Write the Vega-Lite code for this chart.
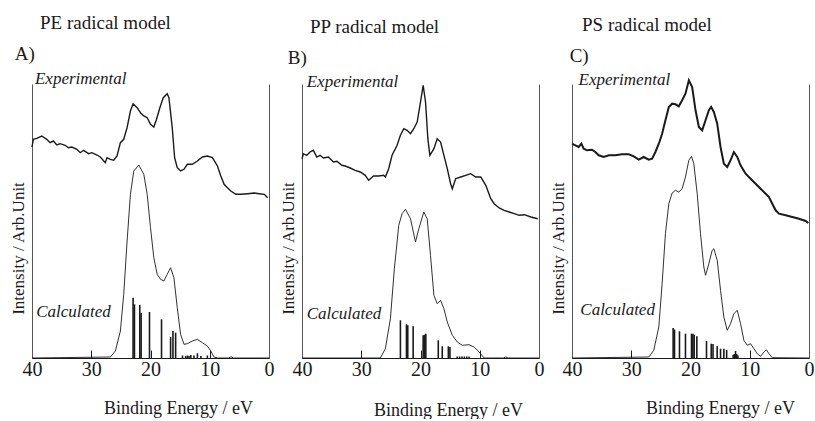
{
"$schema":"https://vega.github.io/schema/vega-lite/v6.json",
"background":"white",
"padding":{"left":9,"top":14,"right":0,"bottom":0},
"config":{"view":{"stroke":null},"font":"Liberation Serif, serif"},
"datasets":{
"curves":[
{"p":"A","s":"e","E":40.0,"I":211},{"p":"A","s":"e","E":39.77,"I":218.7},{"p":"A","s":"e","E":39.21,"I":219.7},{"p":"A","s":"e","E":38.36,"I":222},{"p":"A","s":"e","E":37.51,"I":218.7},{"p":"A","s":"e","E":36.95,"I":215.3},{"p":"A","s":"e","E":36.38,"I":217},{"p":"A","s":"e","E":35.82,"I":213},{"p":"A","s":"e","E":35.25,"I":214.3},{"p":"A","s":"e","E":34.41,"I":212.7},{"p":"A","s":"e","E":33.84,"I":210.3},{"p":"A","s":"e","E":33.28,"I":211},{"p":"A","s":"e","E":32.43,"I":208.7},{"p":"A","s":"e","E":31.86,"I":205.3},{"p":"A","s":"e","E":31.3,"I":207.7},{"p":"A","s":"e","E":30.45,"I":204.3},{"p":"A","s":"e","E":29.89,"I":205.3},{"p":"A","s":"e","E":29.04,"I":203},{"p":"A","s":"e","E":28.47,"I":201},{"p":"A","s":"e","E":27.63,"I":195.3},{"p":"A","s":"e","E":27.34,"I":200.3},{"p":"A","s":"e","E":26.78,"I":198.7},{"p":"A","s":"e","E":26.21,"I":197.7},{"p":"A","s":"e","E":25.65,"I":202},{"p":"A","s":"e","E":25.08,"I":215.3},{"p":"A","s":"e","E":24.52,"I":218.7},{"p":"A","s":"e","E":23.95,"I":230.3},{"p":"A","s":"e","E":23.39,"I":247},{"p":"A","s":"e","E":22.94,"I":254.3},{"p":"A","s":"e","E":22.26,"I":250.3},{"p":"A","s":"e","E":21.69,"I":245.3},{"p":"A","s":"e","E":21.13,"I":242},{"p":"A","s":"e","E":20.56,"I":240.3},{"p":"A","s":"e","E":20.0,"I":233.7},{"p":"A","s":"e","E":19.44,"I":231},{"p":"A","s":"e","E":18.98,"I":238.7},{"p":"A","s":"e","E":18.42,"I":250.3},{"p":"A","s":"e","E":17.85,"I":260.3},{"p":"A","s":"e","E":17.18,"I":264.3},{"p":"A","s":"e","E":16.89,"I":260.3},{"p":"A","s":"e","E":16.33,"I":230.3},{"p":"A","s":"e","E":15.93,"I":200.3},{"p":"A","s":"e","E":15.48,"I":190.3},{"p":"A","s":"e","E":14.92,"I":187},{"p":"A","s":"e","E":14.35,"I":188.7},{"p":"A","s":"e","E":13.79,"I":193.7},{"p":"A","s":"e","E":12.94,"I":193.7},{"p":"A","s":"e","E":12.09,"I":197},{"p":"A","s":"e","E":11.24,"I":201},{"p":"A","s":"e","E":10.4,"I":202},{"p":"A","s":"e","E":9.55,"I":200.3},{"p":"A","s":"e","E":8.7,"I":192},{"p":"A","s":"e","E":8.14,"I":182},{"p":"A","s":"e","E":7.57,"I":173.7},{"p":"A","s":"e","E":7.01,"I":170.3},{"p":"A","s":"e","E":6.44,"I":167},{"p":"A","s":"e","E":5.59,"I":163.7},{"p":"A","s":"e","E":4.75,"I":163.7},{"p":"A","s":"e","E":3.62,"I":164.3},{"p":"A","s":"e","E":2.49,"I":165},{"p":"A","s":"e","E":1.64,"I":164.3},{"p":"A","s":"e","E":0.79,"I":163.7},{"p":"A","s":"e","E":0.23,"I":160.3},
{"p":"A","s":"c","E":40,"I":0},{"p":"A","s":"c","E":26.78,"I":1},{"p":"A","s":"c","E":25.93,"I":7},{"p":"A","s":"c","E":25.08,"I":27},{"p":"A","s":"c","E":24.52,"I":63.7},{"p":"A","s":"c","E":23.95,"I":117},{"p":"A","s":"c","E":23.39,"I":163.7},{"p":"A","s":"c","E":22.82,"I":187},{"p":"A","s":"c","E":21.98,"I":193},{"p":"A","s":"c","E":21.13,"I":183.7},{"p":"A","s":"c","E":20.56,"I":163.7},{"p":"A","s":"c","E":20.0,"I":130.3},{"p":"A","s":"c","E":19.44,"I":100.3},{"p":"A","s":"c","E":18.87,"I":83.7},{"p":"A","s":"c","E":18.31,"I":78.7},{"p":"A","s":"c","E":17.74,"I":77},{"p":"A","s":"c","E":17.18,"I":83.7},{"p":"A","s":"c","E":16.61,"I":90.3},{"p":"A","s":"c","E":16.05,"I":80.3},{"p":"A","s":"c","E":15.48,"I":50.3},{"p":"A","s":"c","E":14.92,"I":23.7},{"p":"A","s":"c","E":14.35,"I":13.7},{"p":"A","s":"c","E":13.79,"I":14.3},{"p":"A","s":"c","E":12.94,"I":17},{"p":"A","s":"c","E":12.09,"I":18.7},{"p":"A","s":"c","E":11.24,"I":15.3},{"p":"A","s":"c","E":10.4,"I":12},{"p":"A","s":"c","E":9.83,"I":7},{"p":"A","s":"c","E":9.27,"I":1},{"p":"A","s":"c","E":8.7,"I":0},{"p":"A","s":"c","E":6.8,"I":0},{"p":"A","s":"c","E":6.4,"I":1.2},{"p":"A","s":"c","E":6.0,"I":0},{"p":"A","s":"c","E":0,"I":0},
{"p":"B","s":"e","E":40.0,"I":199.3},{"p":"B","s":"e","E":39.77,"I":204.3},{"p":"B","s":"e","E":39.21,"I":202.7},{"p":"B","s":"e","E":38.64,"I":206},{"p":"B","s":"e","E":38.08,"I":207.7},{"p":"B","s":"e","E":37.51,"I":201},{"p":"B","s":"e","E":36.95,"I":202.7},{"p":"B","s":"e","E":36.38,"I":200},{"p":"B","s":"e","E":35.54,"I":201},{"p":"B","s":"e","E":35.25,"I":199.3},{"p":"B","s":"e","E":34.69,"I":196},{"p":"B","s":"e","E":34.12,"I":196.7},{"p":"B","s":"e","E":33.28,"I":192.7},{"p":"B","s":"e","E":32.71,"I":192},{"p":"B","s":"e","E":31.86,"I":190},{"p":"B","s":"e","E":31.02,"I":187.7},{"p":"B","s":"e","E":30.17,"I":186},{"p":"B","s":"e","E":29.32,"I":182.7},{"p":"B","s":"e","E":28.76,"I":177.7},{"p":"B","s":"e","E":27.91,"I":182},{"p":"B","s":"e","E":27.06,"I":182},{"p":"B","s":"e","E":26.21,"I":182.7},{"p":"B","s":"e","E":25.93,"I":181},{"p":"B","s":"e","E":25.37,"I":189.3},{"p":"B","s":"e","E":24.8,"I":202.7},{"p":"B","s":"e","E":23.95,"I":212.7},{"p":"B","s":"e","E":23.39,"I":222.7},{"p":"B","s":"e","E":22.82,"I":229.3},{"p":"B","s":"e","E":22.26,"I":227.7},{"p":"B","s":"e","E":21.69,"I":224.3},{"p":"B","s":"e","E":21.13,"I":229.3},{"p":"B","s":"e","E":20.56,"I":236},{"p":"B","s":"e","E":20.0,"I":256},{"p":"B","s":"e","E":19.55,"I":272.7},{"p":"B","s":"e","E":19.15,"I":256},{"p":"B","s":"e","E":18.76,"I":219.3},{"p":"B","s":"e","E":18.42,"I":202.7},{"p":"B","s":"e","E":17.74,"I":209.3},{"p":"B","s":"e","E":17.18,"I":219.3},{"p":"B","s":"e","E":16.61,"I":216},{"p":"B","s":"e","E":16.05,"I":202.7},{"p":"B","s":"e","E":15.48,"I":189.3},{"p":"B","s":"e","E":14.92,"I":174.3},{"p":"B","s":"e","E":14.63,"I":169.3},{"p":"B","s":"e","E":14.07,"I":179.3},{"p":"B","s":"e","E":13.22,"I":181},{"p":"B","s":"e","E":12.37,"I":182.7},{"p":"B","s":"e","E":11.53,"I":184.3},{"p":"B","s":"e","E":10.68,"I":181},{"p":"B","s":"e","E":9.83,"I":181},{"p":"B","s":"e","E":8.98,"I":172.7},{"p":"B","s":"e","E":8.14,"I":159.3},{"p":"B","s":"e","E":7.57,"I":154.3},{"p":"B","s":"e","E":6.72,"I":150},{"p":"B","s":"e","E":5.88,"I":147.7},{"p":"B","s":"e","E":5.03,"I":146},{"p":"B","s":"e","E":4.18,"I":144.3},{"p":"B","s":"e","E":3.33,"I":142.7},{"p":"B","s":"e","E":2.49,"I":143.3},{"p":"B","s":"e","E":1.36,"I":141},{"p":"B","s":"e","E":0.23,"I":139.3},
{"p":"B","s":"c","E":40,"I":0},{"p":"B","s":"c","E":26.78,"I":0},{"p":"B","s":"c","E":25.93,"I":9.3},{"p":"B","s":"c","E":25.08,"I":39.3},{"p":"B","s":"c","E":24.41,"I":89.3},{"p":"B","s":"c","E":23.67,"I":132.7},{"p":"B","s":"c","E":23.11,"I":144.3},{"p":"B","s":"c","E":22.54,"I":148.7},{"p":"B","s":"c","E":21.69,"I":139.3},{"p":"B","s":"c","E":20.85,"I":116},{"p":"B","s":"c","E":20.28,"I":129.3},{"p":"B","s":"c","E":19.44,"I":146},{"p":"B","s":"c","E":18.87,"I":139.3},{"p":"B","s":"c","E":18.31,"I":102.7},{"p":"B","s":"c","E":17.74,"I":62.7},{"p":"B","s":"c","E":17.18,"I":54.3},{"p":"B","s":"c","E":16.61,"I":57.7},{"p":"B","s":"c","E":16.05,"I":49.3},{"p":"B","s":"c","E":15.48,"I":36},{"p":"B","s":"c","E":14.63,"I":22.7},{"p":"B","s":"c","E":13.79,"I":16},{"p":"B","s":"c","E":12.94,"I":12.7},{"p":"B","s":"c","E":11.81,"I":13.3},{"p":"B","s":"c","E":10.96,"I":11},{"p":"B","s":"c","E":10.11,"I":6},{"p":"B","s":"c","E":9.27,"I":0},{"p":"B","s":"c","E":6.0,"I":0},{"p":"B","s":"c","E":5.6,"I":1},{"p":"B","s":"c","E":5.2,"I":0},{"p":"B","s":"c","E":0,"I":0},
{"p":"C","s":"e","E":40.0,"I":214.3},{"p":"C","s":"e","E":39.44,"I":212.7},{"p":"C","s":"e","E":38.87,"I":211},{"p":"C","s":"e","E":38.42,"I":214.3},{"p":"C","s":"e","E":38.03,"I":209.3},{"p":"C","s":"e","E":37.46,"I":207.7},{"p":"C","s":"e","E":36.62,"I":208.3},{"p":"C","s":"e","E":36.06,"I":206},{"p":"C","s":"e","E":35.49,"I":202.7},{"p":"C","s":"e","E":34.65,"I":201},{"p":"C","s":"e","E":33.8,"I":202.7},{"p":"C","s":"e","E":32.68,"I":202.7},{"p":"C","s":"e","E":31.55,"I":203.7},{"p":"C","s":"e","E":30.42,"I":203.7},{"p":"C","s":"e","E":29.58,"I":201.7},{"p":"C","s":"e","E":28.73,"I":198.3},{"p":"C","s":"e","E":27.89,"I":201},{"p":"C","s":"e","E":27.04,"I":198.3},{"p":"C","s":"e","E":26.48,"I":199.3},{"p":"C","s":"e","E":25.92,"I":206},{"p":"C","s":"e","E":25.35,"I":214.3},{"p":"C","s":"e","E":24.79,"I":224.3},{"p":"C","s":"e","E":24.23,"I":237.7},{"p":"C","s":"e","E":23.66,"I":251},{"p":"C","s":"e","E":23.1,"I":254.3},{"p":"C","s":"e","E":22.54,"I":253.7},{"p":"C","s":"e","E":21.97,"I":251.7},{"p":"C","s":"e","E":21.41,"I":257.7},{"p":"C","s":"e","E":20.85,"I":264.3},{"p":"C","s":"e","E":20.28,"I":277.7},{"p":"C","s":"e","E":19.72,"I":271},{"p":"C","s":"e","E":19.15,"I":247.7},{"p":"C","s":"e","E":18.59,"I":231},{"p":"C","s":"e","E":18.03,"I":227.7},{"p":"C","s":"e","E":17.46,"I":237.7},{"p":"C","s":"e","E":16.9,"I":247.7},{"p":"C","s":"e","E":16.51,"I":251},{"p":"C","s":"e","E":16.06,"I":246},{"p":"C","s":"e","E":15.49,"I":234.3},{"p":"C","s":"e","E":14.93,"I":211},{"p":"C","s":"e","E":14.37,"I":194.3},{"p":"C","s":"e","E":13.8,"I":191},{"p":"C","s":"e","E":13.24,"I":197.7},{"p":"C","s":"e","E":12.68,"I":206},{"p":"C","s":"e","E":12.11,"I":201},{"p":"C","s":"e","E":11.55,"I":192.7},{"p":"C","s":"e","E":10.7,"I":184.3},{"p":"C","s":"e","E":9.86,"I":179.3},{"p":"C","s":"e","E":9.01,"I":174.3},{"p":"C","s":"e","E":8.17,"I":169.3},{"p":"C","s":"e","E":7.32,"I":164.3},{"p":"C","s":"e","E":6.76,"I":161},{"p":"C","s":"e","E":6.2,"I":154.3},{"p":"C","s":"e","E":5.63,"I":147.7},{"p":"C","s":"e","E":5.07,"I":144.3},{"p":"C","s":"e","E":3.94,"I":142.7},{"p":"C","s":"e","E":2.82,"I":141},{"p":"C","s":"e","E":1.69,"I":139.3},{"p":"C","s":"e","E":0.56,"I":137},{"p":"C","s":"e","E":0.11,"I":135},
{"p":"C","s":"c","E":40,"I":0},{"p":"C","s":"c","E":27.04,"I":1},{"p":"C","s":"c","E":26.2,"I":7.7},{"p":"C","s":"c","E":25.35,"I":31},{"p":"C","s":"c","E":24.79,"I":74.3},{"p":"C","s":"c","E":24.23,"I":124.3},{"p":"C","s":"c","E":23.66,"I":154.3},{"p":"C","s":"c","E":23.1,"I":165},{"p":"C","s":"c","E":22.54,"I":167.7},{"p":"C","s":"c","E":21.97,"I":166},{"p":"C","s":"c","E":21.41,"I":169.3},{"p":"C","s":"c","E":20.85,"I":181},{"p":"C","s":"c","E":20.28,"I":197.7},{"p":"C","s":"c","E":19.83,"I":201.7},{"p":"C","s":"c","E":19.44,"I":194.3},{"p":"C","s":"c","E":18.87,"I":164.3},{"p":"C","s":"c","E":18.31,"I":124.3},{"p":"C","s":"c","E":17.75,"I":91},{"p":"C","s":"c","E":17.46,"I":82.7},{"p":"C","s":"c","E":16.9,"I":94.3},{"p":"C","s":"c","E":16.34,"I":107.7},{"p":"C","s":"c","E":16.06,"I":109.3},{"p":"C","s":"c","E":15.49,"I":97.7},{"p":"C","s":"c","E":14.93,"I":67.7},{"p":"C","s":"c","E":14.37,"I":41},{"p":"C","s":"c","E":13.8,"I":27.7},{"p":"C","s":"c","E":13.24,"I":34.3},{"p":"C","s":"c","E":12.68,"I":44.3},{"p":"C","s":"c","E":12.11,"I":47.7},{"p":"C","s":"c","E":11.55,"I":34.3},{"p":"C","s":"c","E":10.99,"I":17.7},{"p":"C","s":"c","E":10.42,"I":12.7},{"p":"C","s":"c","E":9.86,"I":14.3},{"p":"C","s":"c","E":9.3,"I":9.3},{"p":"C","s":"c","E":8.73,"I":4.3},{"p":"C","s":"c","E":8.17,"I":1.7},{"p":"C","s":"c","E":7.61,"I":6},{"p":"C","s":"c","E":7.21,"I":8.3},{"p":"C","s":"c","E":6.76,"I":4.3},{"p":"C","s":"c","E":6.2,"I":0.3},{"p":"C","s":"c","E":0,"I":0}
],
"sticks":[
{"p":"A","E":22.94,"I":60.3},{"p":"A","E":22.71,"I":53.7},{"p":"A","E":21.81,"I":53},{"p":"A","E":21.58,"I":45},{"p":"A","E":20.17,"I":46},{"p":"A","E":18.14,"I":38.7},{"p":"A","E":16.61,"I":21},{"p":"A","E":16.21,"I":27},{"p":"A","E":15.76,"I":25.3},{"p":"A","E":14.6,"I":2.5},{"p":"A","E":14.07,"I":2},{"p":"A","E":13.78,"I":2.5},{"p":"A","E":13.5,"I":2},{"p":"A","E":13.2,"I":3},{"p":"A","E":12.66,"I":2.5},{"p":"A","E":12.08,"I":4.7},{"p":"A","E":11.5,"I":2},{"p":"A","E":10.4,"I":2.5},
{"p":"B","E":23.39,"I":37.7},{"p":"B","E":22.37,"I":33.7},{"p":"B","E":22.15,"I":32.7},{"p":"B","E":21.24,"I":31.7},{"p":"B","E":19.55,"I":22.7},{"p":"B","E":19.32,"I":23.3},{"p":"B","E":19.1,"I":24.3},{"p":"B","E":17.0,"I":17.7},{"p":"B","E":16.33,"I":11.7},{"p":"B","E":15.3,"I":11.7},{"p":"B","E":15.03,"I":11},{"p":"B","E":13.8,"I":1.5},{"p":"B","E":13.4,"I":1.5},{"p":"B","E":13.0,"I":1.5},{"p":"B","E":12.6,"I":1.5},{"p":"B","E":12.2,"I":1.5},{"p":"B","E":11.8,"I":1.5},
{"p":"C","E":22.93,"I":30},{"p":"C","E":22.7,"I":28.5},{"p":"C","E":21.86,"I":26.7},{"p":"C","E":20.85,"I":24.3},{"p":"C","E":19.83,"I":24.3},{"p":"C","E":19.6,"I":24.3},{"p":"C","E":19.38,"I":23.3},{"p":"C","E":18.93,"I":21.7},{"p":"C","E":17.3,"I":17},{"p":"C","E":16.5,"I":14.3},{"p":"C","E":16.2,"I":14},{"p":"C","E":15.5,"I":11.7},{"p":"C","E":14.93,"I":9.3},{"p":"C","E":14.37,"I":9.3},{"p":"C","E":13.9,"I":8},{"p":"C","E":12.8,"I":3},{"p":"C","E":12.6,"I":4},{"p":"C","E":12.4,"I":7},{"p":"C","E":12.2,"I":4},{"p":"C","E":12.0,"I":2.5}
],
"notes":[
{"p":"A","t":"Experimental","E":39.5,"I":274},{"p":"A","t":"Calculated","E":39.3,"I":41},
{"p":"B","t":"Experimental","E":39.2,"I":271},{"p":"B","t":"Calculated","E":39.2,"I":39},
{"p":"C","t":"Experimental","E":38.9,"I":273},{"p":"C","t":"Calculated","E":38.6,"I":43}
],
"letters":[
{"p":"A","t":"A)","E":42.9,"I":298},{"p":"B","t":"B)","E":42.4,"I":294},{"p":"C","t":"C)","E":40.4,"I":296}
]
},
"hconcat":[
{"width":237,"height":274,
"title":{"text":"PE radical model","anchor":"start","frame":"group","dx":8,"font":"Liberation Serif, serif","fontSize":19,"fontWeight":"normal","color":"#1a1a1a","baseline":"alphabetic","offset":-3},
"layer":[
{"data":{"name":"curves"},"transform":[{"filter":"datum.p==='A' && datum.s==='e'"}],"mark":{"type":"line","color":"#1a1a1a","strokeWidth":1.4},
"encoding":{"x":{"field":"E","type":"quantitative","scale":{"domain":[0,40],"reverse":true,"nice":false},"axis":{"values":[40,35,30,25,20,15,10,5,0],"labelExpr":"datum.value % 10 === 0 ? datum.label : ''","tickSize":{"condition":{"test":"datum.value % 10 === 0","value":-8},"value":-5},"tickColor":"#1a1a1a","domainColor":"#1a1a1a","domainWidth":1.2,"labelFont":"Liberation Serif, serif","labelFontSize":20,"labelColor":"#1a1a1a","labelBaseline":"alphabetic","labelPadding":25,"labelFlush":false,"labelOverlap":false,"grid":false,"title":"Binding Energy / eV","titleFont":"Liberation Serif, serif","titleFontSize":18,"titleFontWeight":"normal","titleColor":"#1a1a1a","titleX":146,"titleY":55,"titleBaseline":"alphabetic","titleAlign":"center"}},
"y":{"field":"I","type":"quantitative","scale":{"domain":[0,274],"nice":false},"axis":{"orient":"left","ticks":false,"labels":false,"grid":false,"domainColor":"#555","domainWidth":1,"title":"Intensity / Arb.Unit","titleFont":"Liberation Serif, serif","titleFontSize":17,"titleFontWeight":"normal","titleColor":"#1a1a1a","titleX":-9,"titleY":164,"titleBaseline":"alphabetic","titleAlign":"center"}}}},
{"data":{"name":"curves"},"transform":[{"filter":"datum.p==='A' && datum.s==='c'"}],"mark":{"type":"line","color":"#1a1a1a","strokeWidth":0.9},
"encoding":{"x":{"field":"E","type":"quantitative"},"y":{"field":"I","type":"quantitative","axis":{"orient":"right","ticks":false,"labels":false,"grid":false,"domainColor":"#555","domainWidth":1,"title":null}}}},
{"data":{"name":"sticks"},"transform":[{"filter":"datum.p==='A'"}],"mark":{"type":"rule","color":"#1a1a1a","strokeWidth":1.6},
"encoding":{"x":{"field":"E","type":"quantitative"},"y":{"field":"I","type":"quantitative","axis":null},"y2":{"datum":0}}},
{"data":{"name":"notes"},"transform":[{"filter":"datum.p==='A'"}],"mark":{"type":"text","font":"Liberation Serif, serif","fontStyle":"italic","fontSize":17,"align":"left","baseline":"alphabetic","color":"#1a1a1a"},
"encoding":{"x":{"field":"E","type":"quantitative"},"y":{"field":"I","type":"quantitative","axis":null},"text":{"field":"t"}}},
{"data":{"name":"letters"},"transform":[{"filter":"datum.p==='A'"}],"mark":{"type":"text","font":"Liberation Serif, serif","fontSize":19,"align":"left","baseline":"alphabetic","color":"#1a1a1a"},
"encoding":{"x":{"field":"E","type":"quantitative"},"y":{"field":"I","type":"quantitative","axis":null},"text":{"field":"t"}}}
],
"resolve":{"axis":{"y":"independent"}}},
{"width":237,"height":274,
"title":{"text":"PP radical model","anchor":"start","frame":"group","dx":8,"font":"Liberation Serif, serif","fontSize":19,"fontWeight":"normal","color":"#1a1a1a","baseline":"alphabetic","offset":-3},
"layer":[
{"data":{"name":"curves"},"transform":[{"filter":"datum.p==='B' && datum.s==='e'"}],"mark":{"type":"line","color":"#1a1a1a","strokeWidth":1.4},
"encoding":{"x":{"field":"E","type":"quantitative","scale":{"domain":[0,40],"reverse":true,"nice":false},"axis":{"values":[40,35,30,25,20,15,10,5,0],"labelExpr":"datum.value % 10 === 0 ? datum.label : ''","tickSize":{"condition":{"test":"datum.value % 10 === 0","value":-8},"value":-5},"tickColor":"#1a1a1a","domainColor":"#1a1a1a","domainWidth":1.2,"labelFont":"Liberation Serif, serif","labelFontSize":20,"labelColor":"#1a1a1a","labelBaseline":"alphabetic","labelPadding":25,"labelFlush":false,"labelOverlap":false,"grid":false,"title":"Binding Energy / eV","titleFont":"Liberation Serif, serif","titleFontSize":18,"titleFontWeight":"normal","titleColor":"#1a1a1a","titleX":146,"titleY":57,"titleBaseline":"alphabetic","titleAlign":"center"}},
"y":{"field":"I","type":"quantitative","scale":{"domain":[0,274],"nice":false},"axis":{"orient":"left","ticks":false,"labels":false,"grid":false,"domainColor":"#555","domainWidth":1,"title":"Intensity / Arb.Unit","titleFont":"Liberation Serif, serif","titleFontSize":17,"titleFontWeight":"normal","titleColor":"#1a1a1a","titleX":-9,"titleY":164,"titleBaseline":"alphabetic","titleAlign":"center"}}}},
{"data":{"name":"curves"},"transform":[{"filter":"datum.p==='B' && datum.s==='c'"}],"mark":{"type":"line","color":"#1a1a1a","strokeWidth":0.9},
"encoding":{"x":{"field":"E","type":"quantitative"},"y":{"field":"I","type":"quantitative","axis":{"orient":"right","ticks":false,"labels":false,"grid":false,"domainColor":"#555","domainWidth":1,"title":null}}}},
{"data":{"name":"sticks"},"transform":[{"filter":"datum.p==='B'"}],"mark":{"type":"rule","color":"#1a1a1a","strokeWidth":1.6},
"encoding":{"x":{"field":"E","type":"quantitative"},"y":{"field":"I","type":"quantitative","axis":null},"y2":{"datum":0}}},
{"data":{"name":"notes"},"transform":[{"filter":"datum.p==='B'"}],"mark":{"type":"text","font":"Liberation Serif, serif","fontStyle":"italic","fontSize":17,"align":"left","baseline":"alphabetic","color":"#1a1a1a"},
"encoding":{"x":{"field":"E","type":"quantitative"},"y":{"field":"I","type":"quantitative","axis":null},"text":{"field":"t"}}},
{"data":{"name":"letters"},"transform":[{"filter":"datum.p==='B'"}],"mark":{"type":"text","font":"Liberation Serif, serif","fontSize":19,"align":"left","baseline":"alphabetic","color":"#1a1a1a"},
"encoding":{"x":{"field":"E","type":"quantitative"},"y":{"field":"I","type":"quantitative","axis":null},"text":{"field":"t"}}}
],
"resolve":{"axis":{"y":"independent"}}},
{"width":237,"height":274,
"title":{"text":"PS radical model","anchor":"start","frame":"group","dx":10,"font":"Liberation Serif, serif","fontSize":19,"fontWeight":"normal","color":"#1a1a1a","baseline":"alphabetic","offset":-3},
"layer":[
{"data":{"name":"curves"},"transform":[{"filter":"datum.p==='C' && datum.s==='e'"}],"mark":{"type":"line","color":"#1a1a1a","strokeWidth":2},
"encoding":{"x":{"field":"E","type":"quantitative","scale":{"domain":[0,40],"reverse":true,"nice":false},"axis":{"values":[40,35,30,25,20,15,10,5,0],"labelExpr":"datum.value % 10 === 0 ? datum.label : ''","tickSize":{"condition":{"test":"datum.value % 10 === 0","value":-8},"value":-5},"tickColor":"#1a1a1a","domainColor":"#1a1a1a","domainWidth":1.2,"labelFont":"Liberation Serif, serif","labelFontSize":20,"labelColor":"#1a1a1a","labelBaseline":"alphabetic","labelPadding":25,"labelFlush":false,"labelOverlap":false,"grid":false,"title":"Binding Energy / eV","titleFont":"Liberation Serif, serif","titleFontSize":18,"titleFontWeight":"normal","titleColor":"#1a1a1a","titleX":148,"titleY":55,"titleBaseline":"alphabetic","titleAlign":"center"}},
"y":{"field":"I","type":"quantitative","scale":{"domain":[0,274],"nice":false},"axis":{"orient":"left","ticks":false,"labels":false,"grid":false,"domainColor":"#555","domainWidth":1,"title":"Intensity / Arb.Unit","titleFont":"Liberation Serif, serif","titleFontSize":17,"titleFontWeight":"normal","titleColor":"#1a1a1a","titleX":-9,"titleY":164,"titleBaseline":"alphabetic","titleAlign":"center"}}}},
{"data":{"name":"curves"},"transform":[{"filter":"datum.p==='C' && datum.s==='c'"}],"mark":{"type":"line","color":"#1a1a1a","strokeWidth":0.9},
"encoding":{"x":{"field":"E","type":"quantitative"},"y":{"field":"I","type":"quantitative","axis":{"orient":"right","ticks":false,"labels":false,"grid":false,"domainColor":"#555","domainWidth":1,"title":null}}}},
{"data":{"name":"sticks"},"transform":[{"filter":"datum.p==='C'"}],"mark":{"type":"rule","color":"#1a1a1a","strokeWidth":1.6},
"encoding":{"x":{"field":"E","type":"quantitative"},"y":{"field":"I","type":"quantitative","axis":null},"y2":{"datum":0}}},
{"data":{"name":"notes"},"transform":[{"filter":"datum.p==='C'"}],"mark":{"type":"text","font":"Liberation Serif, serif","fontStyle":"italic","fontSize":17,"align":"left","baseline":"alphabetic","color":"#1a1a1a"},
"encoding":{"x":{"field":"E","type":"quantitative"},"y":{"field":"I","type":"quantitative","axis":null},"text":{"field":"t"}}},
{"data":{"name":"letters"},"transform":[{"filter":"datum.p==='C'"}],"mark":{"type":"text","font":"Liberation Serif, serif","fontSize":19,"align":"left","baseline":"alphabetic","color":"#1a1a1a"},
"encoding":{"x":{"field":"E","type":"quantitative"},"y":{"field":"I","type":"quantitative","axis":null},"text":{"field":"t"}}}
],
"resolve":{"axis":{"y":"independent"}}}
],
"spacing":33,
"bounds":"flush"
}
